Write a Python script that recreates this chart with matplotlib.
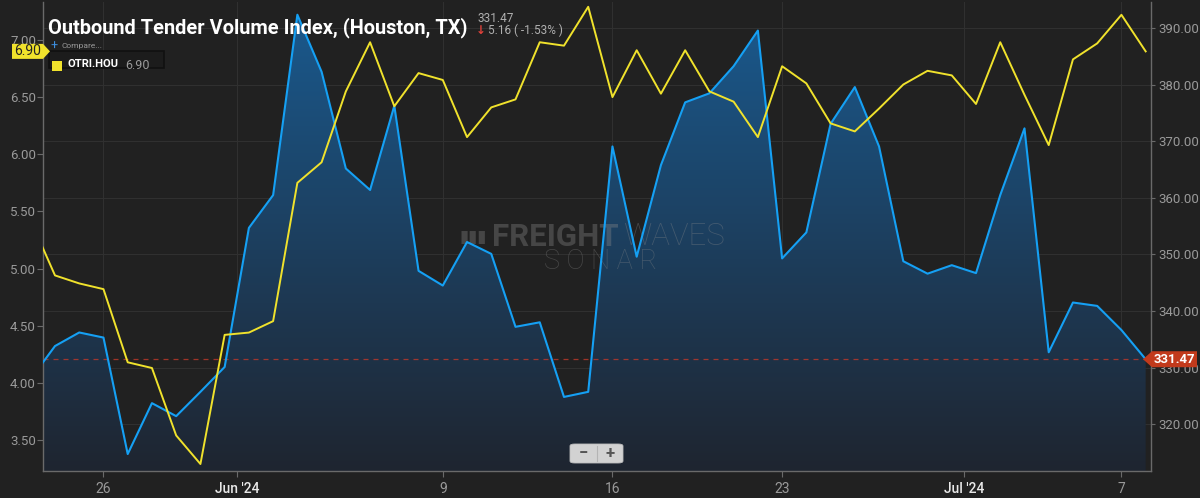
import numpy as np
import pandas as pd
import matplotlib
matplotlib.use('Agg')
import matplotlib.pyplot as plt
import matplotlib.dates as mdates
from matplotlib.colors import LinearSegmentedColormap
from matplotlib.patches import Polygon, FancyBboxPatch, Rectangle

plt.rcParams['font.family'] = ['Roboto', 'DejaVu Sans']

BG = '#212121'
BLUE = '#15a0f4'
YELLOW = '#f0e22c'
FILL_TOP = '#1a5a8f'
FILL_BOT = '#1f2530'
GRID = '#303030'
SPINE = '#6a6a6a'
TICK_TXT = '#9a9a9a'

# daily data, 23 May – 8 Jul 2024
DATES = pd.date_range('2024-05-23', '2024-07-08', freq='D')

# Outbound Tender Volume Index, Houston (right axis)
OTVI = [328.0, 333.8, 336.2, 335.3, 314.7, 323.7, 321.4, 325.7, 330.1, 354.7,
        360.5, 392.4, 382.3, 365.2, 361.4, 376.3, 347.1, 344.5, 352.2, 350.1,
        337.2, 338.0, 324.8, 325.7, 369.1, 349.6, 365.8, 376.9, 378.5, 383.3,
        389.6, 349.3, 353.9, 373.1, 379.6, 369.1, 348.8, 346.6, 348.1, 346.7,
        360.5, 372.3, 332.7, 341.5, 340.9, 336.63, 331.47]

# OTRI.HOU, outbound tender reject index (left axis)
OTRI = [5.42, 4.94, 4.87, 4.82, 4.18, 4.13, 3.54, 3.29, 4.42, 4.44,
        4.54, 5.75, 5.93, 6.55, 6.98, 6.42, 6.71, 6.65, 6.15, 6.41,
        6.48, 6.98, 6.95, 7.29, 6.50, 6.91, 6.53, 6.91, 6.55, 6.46,
        6.15, 6.77, 6.62, 6.27, 6.20, 6.40, 6.61, 6.73, 6.69, 6.44,
        6.98, 6.52, 6.08, 6.83, 6.97, 7.22, 6.90]

RIGHT_TICKS = [320, 330, 340, 350, 360, 370, 380, 390]
LEFT_TICKS = [3.5, 4.0, 4.5, 5.0, 5.5, 6.0, 6.5, 7.0]
X_TICKS = ['2024-05-26 00:00', '2024-05-31 12:00', '2024-06-09 00:00',
           '2024-06-16 00:00', '2024-06-23 00:00', '2024-06-30 12:00',
           '2024-07-07 00:00']
X_LABELS = ['26', "Jun '24", '9', '16', '23', "Jul '24", '7']
MONTH_LABELS = {"Jun '24", "Jul '24"}

R_LIM = (311.7, 394.65)
L_LIM = (3.229, 7.332)

W, H = 1200, 498
fig = plt.figure(figsize=(W / 100, H / 100), dpi=100, facecolor=BG)
ax = fig.add_axes([43 / W, 27 / H, 1108 / W, 469 / H])
ax.set_facecolor(BG)
ax2 = ax.twinx()

xnum = mdates.date2num(DATES)
x0 = mdates.date2num(pd.Timestamp('2024-05-24')) - 0.495
x1 = mdates.date2num(pd.Timestamp('2024-05-24')) + 45.22

# gradient area under the volume line
poly = ax.fill_between(xnum, OTVI, R_LIM[0] - 10, facecolor='none',
                       edgecolor='none')
cmap = LinearSegmentedColormap.from_list('area', [FILL_BOT, FILL_TOP])
grad = np.linspace(1, 0, 256).reshape(-1, 1)
im = ax.imshow(grad, extent=[xnum[0], xnum[-1], R_LIM[0], R_LIM[1]],
               aspect='auto', cmap=cmap, origin='upper', zorder=1)
im.set_clip_path(poly.get_paths()[0], ax.transData)

ax.plot(xnum, OTVI, color=BLUE, linewidth=1.5, zorder=4)
ax.axhline(OTVI[-1], color='#c0392b', linewidth=0.9, linestyle=(0, (4, 4)),
           alpha=0.8, zorder=3)

ax.set_xlim(x0, x1)
ax.set_ylim(*R_LIM)
ax.yaxis.tick_right()
ax.set_yticks(RIGHT_TICKS)
ax.set_yticklabels([f'{v:.2f}' for v in RIGHT_TICKS])
xt = mdates.date2num(pd.to_datetime(X_TICKS, format='%Y-%m-%d %H:%M'))
ax.set_xticks(xt)
ax.set_xticklabels(X_LABELS)
for lbl in ax.get_xticklabels():
    if lbl.get_text() in MONTH_LABELS:
        lbl.set_color('#e8e8e8')
        lbl.set_fontweight('medium')
    else:
        lbl.set_color(TICK_TXT)
ax.tick_params(axis='x', length=4, width=0.8, color=SPINE, pad=4,
               labelsize=10)
ax.tick_params(axis='y', length=3, width=0.8, color=SPINE, pad=2,
               labelsize=9.5, labelcolor=TICK_TXT)
ax.grid(True, color=GRID, linewidth=0.8, zorder=0)
ax.set_axisbelow(True)
for side in ['left', 'right', 'bottom']:
    ax.spines[side].set_color(SPINE)
    ax.spines[side].set_linewidth(1.0)
ax.spines['top'].set_visible(False)

# watermark
wm = dict(transform=ax.transAxes, color='#8c8c8c', alpha=0.35,
          va='center', zorder=2)
ax.text(0.401, 0.50, '▮▮▮', fontsize=12, ha='right',
        family=['DejaVu Sans'], **wm)
t_fr = ax.text(0.405, 0.50, 'FREIGHT', fontsize=22.5, fontweight='bold',
               ha='left', **wm)
fig.canvas.draw()
bb = t_fr.get_window_extent().transformed(ax.transAxes.inverted())
ax.text(bb.x1 + 0.004, 0.50, 'WAVES', fontsize=22.5, fontweight='light',
        ha='left', **wm)
ax.text(0.503, 0.446, 'S O N A R', fontsize=19.5, fontweight='light',
        ha='center', **wm)

# rejection index on its own (left) scale, drawn on top
ax2.plot(xnum, OTRI, color=YELLOW, linewidth=1.4, zorder=5)
ax2.set_ylim(*L_LIM)
ax2.yaxis.tick_left()
ax2.set_yticks(LEFT_TICKS)
ax2.set_yticklabels([f'{v:.2f}' for v in LEFT_TICKS])
ax2.tick_params(axis='y', length=4, width=0.8, color=SPINE, pad=1,
                labelsize=9.5, labelcolor=TICK_TXT)
for s in ax2.spines.values():
    s.set_visible(False)

# zoom buttons
fig.patches.append(FancyBboxPatch((570 / W, 1 - 463 / H), 53 / W, 19 / H,
                                  boxstyle='round,pad=0,rounding_size=0.004',
                                  transform=fig.transFigure,
                                  facecolor='#d2d2d2', edgecolor='#bdbdbd',
                                  linewidth=0.6, zorder=6))
fig.lines.append(plt.Line2D([597 / W, 597 / W], [1 - 461 / H, 1 - 446 / H],
                            transform=fig.transFigure, color='#b4b4b4',
                            linewidth=0.8, zorder=7))
fig.text(583.5 / W, 1 - 453.5 / H, '−', fontsize=12, fontweight='bold',
         color='#555555', ha='center', va='center', zorder=8)
fig.text(610 / W, 1 - 453.5 / H, '+', fontsize=12, fontweight='bold',
         color='#555555', ha='center', va='center', zorder=8)

# last-value tags
fig.canvas.draw()
yl = ax2.transData.transform((x0, OTRI[-1]))[1] / H
yr = ax.transData.transform((x0, OTVI[-1]))[1] / H
th = 7.5 / H
fig.patches.append(Polygon([(12 / W, yl - th), (43 / W, yl - th),
                            (50 / W, yl), (43 / W, yl + th),
                            (12 / W, yl + th)], closed=True,
                           transform=fig.transFigure, facecolor=YELLOW,
                           edgecolor='none', zorder=6))
fig.text(27.5 / W, yl, f'{OTRI[-1]:.2f}', fontsize=10, color='#222222',
         ha='center', va='center', zorder=7)
th = 8 / H
fig.patches.append(Polygon([(1143 / W, yr), (1152 / W, yr + th),
                            (1197 / W, yr + th), (1197 / W, yr - th),
                            (1152 / W, yr - th)], closed=True,
                           transform=fig.transFigure, facecolor='#c23a1c',
                           edgecolor='none', zorder=6))
fig.text(1174.5 / W, yr, f'{OTVI[-1]:.2f}', fontsize=9.5, fontweight='bold',
         color='white', ha='center', va='center', zorder=7)

# header
fig.text(48 / W, 1 - 28 / H, 'Outbound Tender Volume Index, (Houston, TX)',
         fontsize=14.4, fontweight='bold', color='white', ha='left',
         va='center')
chg = OTVI[-1] - OTVI[-2]
fig.text(477 / W, 1 - 19 / H, f'{OTVI[-1]:.2f}', fontsize=8.5,
         color='#b0b0b0', ha='left', va='center')
fig.text(476 / W, 1 - 30 / H, '↓', fontsize=8.5, fontweight='bold',
         color='#e0413a', ha='left', va='center', family=['DejaVu Sans'])
fig.text(488 / W, 1 - 30 / H,
         f'{abs(chg):.2f} ( {chg / OTVI[-2] * 100:.2f}% )', fontsize=8.5,
         color='#b0b0b0', ha='left', va='center')

# compare / legend
fig.text(50 / W, 1 - 46 / H, '+', fontsize=9, color='#3d8fe0', ha='left',
         va='center')
fig.text(61 / W, 1 - 46 / H, 'Compare...', fontsize=6, color='#9a9a9a',
         ha='left', va='center')
fig.patches.append(Rectangle((49 / W, 1 - 68 / H), 115 / W, 17 / H,
                             transform=fig.transFigure, facecolor='#1c1c1c',
                             edgecolor='#111111', linewidth=1.2, zorder=5))
fig.patches.append(Rectangle((52 / W, 1 - 71 / H), 10 / W, 10 / H,
                             transform=fig.transFigure, facecolor=YELLOW,
                             edgecolor='none', zorder=6))
fig.text(67 / W, 1 - 64 / H, 'OTRI.HOU', fontsize=8, fontweight='bold',
         color='white', ha='left', va='center', zorder=7)
fig.text(125 / W, 1 - 65 / H, f'{OTRI[-1]:.2f}', fontsize=9,
         color='#9a9a9a', ha='left', va='center', zorder=7)

fig.savefig('out.png', dpi=100, facecolor=BG)
